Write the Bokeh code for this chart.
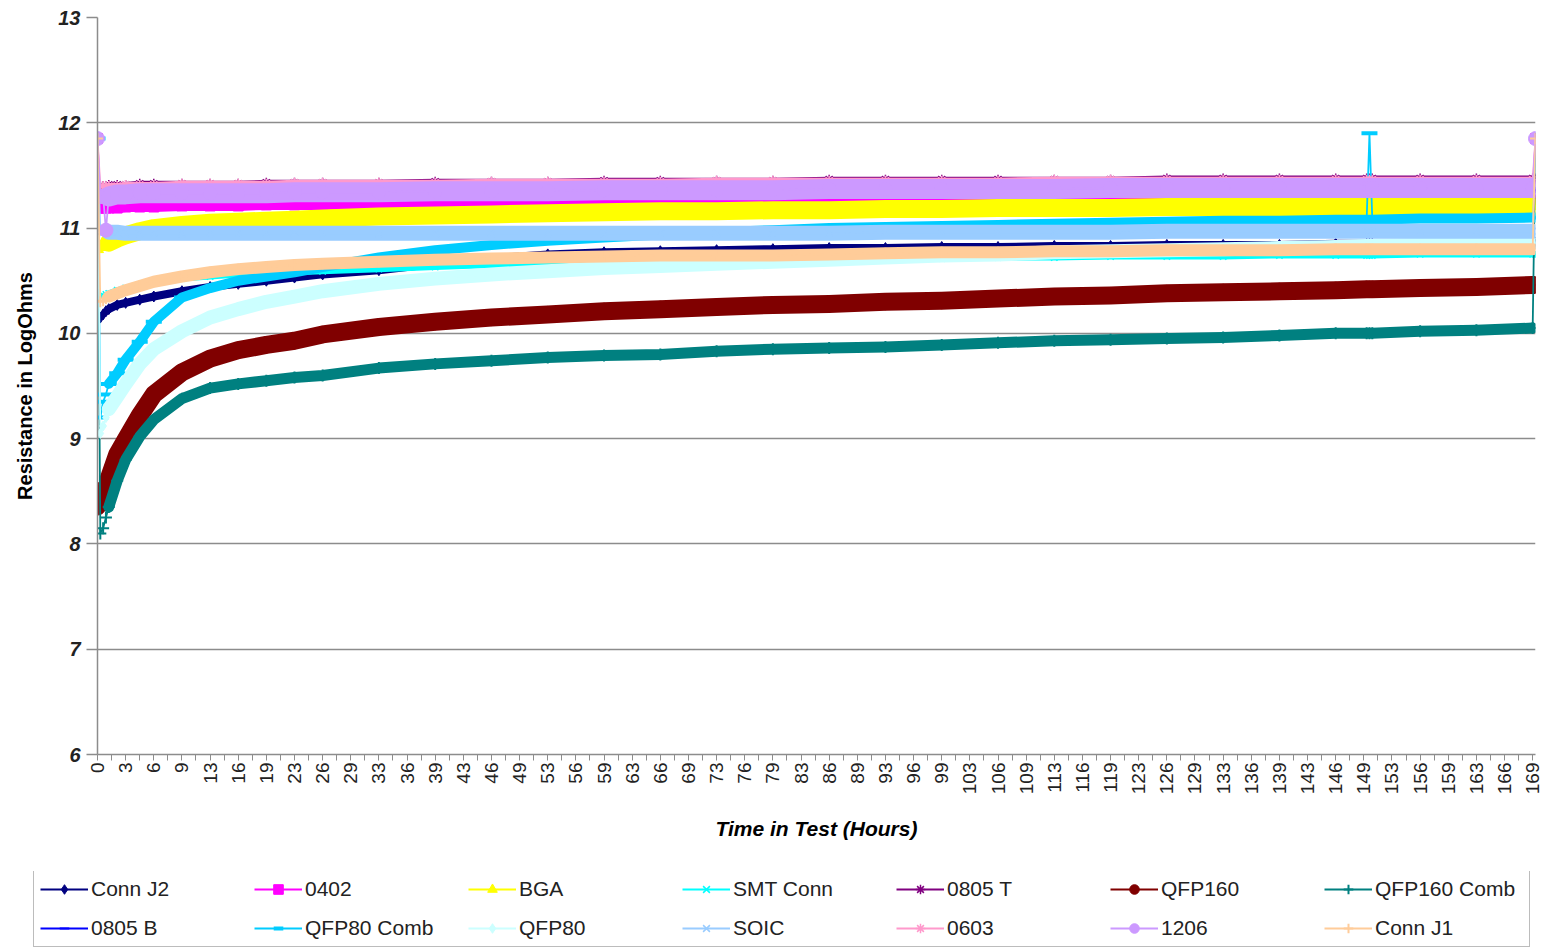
import numpy as np
from bokeh.plotting import figure
from bokeh.layouts import column, row
from bokeh.models import Range1d, FixedTicker, Legend, LegendItem
from bokeh.embed import file_html
from bokeh.resources import INLINE

# ---------------- data ----------------
hour_labels = ["0", "3", "6", "9", "13", "16", "19", "23", "26", "29", "33", "36", "39",
               "43", "46", "49", "53", "56", "59", "63", "66", "69", "73", "76", "79", "83",
               "86", "89", "93", "96", "99", "103", "106", "109", "113", "116", "119", "123",
               "126", "129", "133", "136", "139", "143", "146", "149", "153", "156", "159",
               "163", "166", "169"]
label_every = 10  # one hour label every 10 readings

# reading number (position along the category axis) of each sampled value
sample_idx = [0, 1, 2, 3, 4, 7, 10, 15, 20, 30, 40, 50, 60, 70, 80, 100, 120, 140, 160, 180,
              200, 220, 240, 260, 280, 300, 320, 340, 360, 380, 400, 420, 440, 451, 452, 453,
              470, 490, 510, 511]

conn_j2 = [10.15, 10.15, 10.18, 10.21, 10.23, 10.27, 10.29, 10.32, 10.35, 10.40, 10.44, 10.47,
           10.50, 10.53, 10.56, 10.60, 10.66, 10.71, 10.75, 10.77, 10.78, 10.79, 10.80, 10.81,
           10.81, 10.82, 10.82, 10.83, 10.83, 10.84, 10.84, 10.84, 10.85, 10.85, 10.85, 10.85,
           10.85, 10.86, 10.86, 10.86]
s_0402 = [11.85, 11.19, 11.19, 11.19, 11.19, 11.19, 11.20, 11.20, 11.20, 11.21, 11.21, 11.21,
          11.22, 11.22, 11.22, 11.23, 11.23, 11.24, 11.24, 11.24, 11.25, 11.25, 11.25, 11.25,
          11.26, 11.26, 11.26, 11.26, 11.26, 11.27, 11.27, 11.27, 11.27, 11.27, 11.27, 11.27,
          11.27, 11.27, 11.27, 11.85]
bga = [10.80, 10.82, 10.84, 10.85, 10.86, 10.90, 10.93, 10.97, 11.00, 11.03, 11.05, 11.06,
       11.07, 11.08, 11.09, 11.11, 11.12, 11.13, 11.14, 11.15, 11.16, 11.16, 11.17, 11.17,
       11.18, 11.18, 11.19, 11.19, 11.19, 11.20, 11.20, 11.20, 11.20, 11.20, 11.20, 11.20,
       11.21, 11.21, 11.21, 11.21]
smt_conn = [10.35, 10.35, 10.36, 10.37, 10.38, 10.41, 10.43, 10.46, 10.49, 10.52, 10.54, 10.56,
            10.57, 10.58, 10.59, 10.61, 10.63, 10.65, 10.66, 10.67, 10.68, 10.69, 10.70, 10.70,
            10.71, 10.71, 10.72, 10.72, 10.73, 10.73, 10.73, 10.74, 10.74, 10.74, 10.74, 10.74,
            10.75, 10.75, 10.75, 10.75]
s_0805_t = [11.40, 11.40, 11.40, 11.40, 11.41, 11.41, 11.41, 11.42, 11.42, 11.42, 11.42, 11.42,
            11.43, 11.43, 11.43, 11.43, 11.44, 11.44, 11.44, 11.45, 11.45, 11.45, 11.45, 11.46,
            11.46, 11.46, 11.46, 11.46, 11.46, 11.47, 11.47, 11.47, 11.47, 11.47, 11.47, 11.47,
            11.47, 11.47, 11.47, 11.47]
qfp160 = [8.35, 8.38, 8.48, 8.55, 8.62, 8.85, 8.99, 9.22, 9.42, 9.63, 9.76, 9.84, 9.89, 9.93,
          9.99, 10.06, 10.11, 10.15, 10.18, 10.21, 10.23, 10.25, 10.27, 10.28, 10.30, 10.31,
          10.33, 10.35, 10.36, 10.38, 10.39, 10.40, 10.41, 10.42, 10.42, 10.42, 10.43, 10.44,
          10.46, 10.46]
qfp160_comb = [11.85, 8.10, 8.15, 8.25, 8.35, 8.60, 8.80, 9.02, 9.18, 9.38, 9.48, 9.52, 9.55,
               9.58, 9.60, 9.67, 9.71, 9.74, 9.77, 9.79, 9.80, 9.83, 9.85, 9.86, 9.87, 9.89,
               9.91, 9.93, 9.94, 9.95, 9.96, 9.98, 10.00, 10.00, 10.00, 10.00, 10.02, 10.03,
               10.05, 11.85]
s_0805_b = [11.30, 11.30, 11.30, 11.30, 11.30, 11.31, 11.31, 11.32, 11.32, 11.33, 11.33, 11.33,
            11.33, 11.33, 11.34, 11.34, 11.34, 11.34, 11.35, 11.35, 11.35, 11.35, 11.35, 11.35,
            11.35, 11.35, 11.35, 11.36, 11.36, 11.36, 11.36, 11.36, 11.36, 11.36, 11.36, 11.36,
            11.36, 11.36, 11.36, 11.36]
qfp80_comb = [11.85, 9.20, 9.35, 9.42, 9.52, 9.62, 9.75, 9.92, 10.11, 10.34, 10.43, 10.50,
              10.54, 10.58, 10.63, 10.72, 10.79, 10.84, 10.88, 10.91, 10.94, 10.96, 10.98,
              11.00, 11.01, 11.02, 11.03, 11.04, 11.05, 11.06, 11.07, 11.07, 11.08, 11.08,
              11.90, 11.08, 11.09, 11.09, 11.10, 11.10]
qfp80 = [11.85, 9.05, 9.12, 9.20, 9.28, 9.40, 9.52, 9.71, 9.85, 10.02, 10.15, 10.23, 10.30,
         10.35, 10.40, 10.47, 10.52, 10.56, 10.59, 10.62, 10.64, 10.66, 10.68, 10.70, 10.72,
         10.74, 10.75, 10.77, 10.78, 10.79, 10.80, 10.81, 10.82, 10.83, 10.83, 10.83, 10.84,
         10.85, 10.86, 10.86]
soic = [11.85, 10.96, 10.96, 10.96, 10.96, 10.96, 10.95, 10.95, 10.95, 10.95, 10.95, 10.95,
        10.95, 10.95, 10.95, 10.95, 10.95, 10.95, 10.95, 10.95, 10.95, 10.95, 10.95, 10.95,
        10.96, 10.96, 10.96, 10.96, 10.96, 10.97, 10.97, 10.97, 10.97, 10.97, 10.97, 10.97,
        10.97, 10.97, 10.97, 11.85]
s_0603 = [11.85, 11.40, 11.40, 11.40, 11.40, 11.40, 11.41, 11.41, 11.41, 11.42, 11.42, 11.42,
          11.42, 11.43, 11.43, 11.43, 11.43, 11.44, 11.44, 11.44, 11.44, 11.45, 11.45, 11.45,
          11.45, 11.45, 11.45, 11.46, 11.46, 11.46, 11.46, 11.46, 11.46, 11.46, 11.46, 11.46,
          11.46, 11.46, 11.46, 11.85]
s_1206 = [11.85, 11.30, 11.30, 10.98, 11.30, 11.32, 11.32, 11.33, 11.33, 11.33, 11.33, 11.33,
          11.33, 11.34, 11.34, 11.34, 11.35, 11.35, 11.35, 11.36, 11.36, 11.36, 11.36, 11.37,
          11.37, 11.37, 11.37, 11.37, 11.38, 11.38, 11.38, 11.38, 11.38, 11.38, 11.38, 11.38,
          11.38, 11.38, 11.38, 11.85]
conn_j1 = [11.85, 10.30, 10.31, 10.33, 10.35, 10.38, 10.41, 10.45, 10.49, 10.54, 10.58, 10.61,
           10.63, 10.65, 10.66, 10.68, 10.70, 10.71, 10.72, 10.73, 10.74, 10.74, 10.74, 10.75,
           10.76, 10.77, 10.77, 10.78, 10.78, 10.79, 10.79, 10.79, 10.80, 10.80, 10.80, 10.80,
           10.80, 10.80, 10.80, 11.85]

series_names = ["Conn J2", "0402", "BGA", "SMT Conn", "0805 T", "QFP160", "QFP160 Comb",
                "0805 B", "QFP80 Comb", "QFP80", "SOIC", "0603", "1206", "Conn J1"]
series_values = [conn_j2, s_0402, bga, smt_conn, s_0805_t, qfp160, qfp160_comb,
                 s_0805_b, qfp80_comb, qfp80, soic, s_0603, s_1206, conn_j1]

# ---------------- styles ----------------
# color, marker, marker size, marker line width, band width
styles = [
    ("#000080", "diamond", 11, 1, 8),
    ("#FF00FF", "square", 10, 1, 10),
    ("#FFFF00", "triangle", 12, 1, 18),
    ("#00FFFF", "x", 9, 1.5, 6),
    ("#800080", "asterisk", 10, 1.5, 6),
    ("#800000", "circle", 16, 1, 18),
    ("#008080", "cross", 12, 2, 11),
    ("#0000FF", "dash", 9, 2, 6),
    ("#00CCFF", "dash", 16, 4, 10),
    ("#CCFFFF", "diamond", 10, 1, 14),
    ("#99CCFF", "x", 10, 1.5, 15),
    ("#FF99CC", "asterisk", 10, 1.5, 6),
    ("#CC99FF", "circle", 14, 1, 20),
    ("#FFCC99", "cross", 11, 2, 12),
]

FONT = "Liberation Sans"
GRAY = "#8c8c8c"

p = figure(width=1542, height=871, output_backend="svg", toolbar_location=None,
           x_range=Range1d(0, 511), y_range=Range1d(6, 13),
           min_border_left=97, min_border_right=7, min_border_top=17, min_border_bottom=117,
           background_fill_color="white", border_fill_color="white")
p.outline_line_color = None

# y axis
p.yaxis.ticker = FixedTicker(ticks=list(range(6, 14)))
p.yaxis.axis_label = "Resistance in LogOhms"
p.yaxis.axis_label_text_font = FONT
p.yaxis.axis_label_text_font_size = "20px"
p.yaxis.axis_label_text_font_style = "bold"
p.yaxis.axis_label_text_color = "black"
p.yaxis.axis_label_standoff = 19
p.yaxis.major_label_text_font = FONT
p.yaxis.major_label_text_font_size = "20px"
p.yaxis.major_label_text_font_style = "bold italic"
p.yaxis.major_label_text_color = "#222222"
p.yaxis.major_label_standoff = 6
p.yaxis.major_tick_out = 11
p.yaxis.major_tick_in = 0
p.yaxis.minor_tick_out = 0
p.yaxis.minor_tick_in = 0
p.yaxis.axis_line_color = GRAY
p.yaxis.axis_line_width = 1.5
p.yaxis.major_tick_line_color = GRAY
p.yaxis.major_tick_line_width = 1.5

# x axis (category-like, labels every 10 readings)
major = [i * label_every for i in range(len(hour_labels))]
minor = [m + label_every // 2 for m in major]
p.xaxis.ticker = FixedTicker(ticks=major, minor_ticks=minor)
p.xaxis.major_label_overrides = {m: lab for m, lab in zip(major, hour_labels)}
p.xaxis.major_label_orientation = np.pi / 2
p.xaxis.major_label_text_font = FONT
p.xaxis.major_label_text_font_size = "19px"
p.xaxis.major_label_text_color = "#222222"
p.xaxis.major_label_standoff = 2
p.xaxis.axis_label = "Time in Test (Hours)"
p.xaxis.axis_label_text_font = FONT
p.xaxis.axis_label_text_font_size = "21px"
p.xaxis.axis_label_text_font_style = "bold italic"
p.xaxis.axis_label_text_color = "black"
p.xaxis.axis_label_standoff = 20
p.xaxis.major_tick_out = 6
p.xaxis.major_tick_in = 0
p.xaxis.minor_tick_out = 6
p.xaxis.minor_tick_in = 0
p.xaxis.axis_line_color = GRAY
p.xaxis.axis_line_width = 1.5
p.xaxis.major_tick_line_color = GRAY
p.xaxis.minor_tick_line_color = GRAY

p.xgrid.grid_line_color = None
p.ygrid.grid_line_color = GRAY
p.ygrid.grid_line_width = 1.5

# legend strip below the chart; the series are re-plotted there outside its visible
# ranges so that the legend can draw each series' line + marker key
pl = figure(width=1542, height=76, output_backend="svg", toolbar_location=None,
            x_range=Range1d(-2, -1), y_range=Range1d(0, 1), x_axis_type=None, y_axis_type=None,
            min_border=0, min_border_left=0, min_border_right=0, min_border_top=0,
            min_border_bottom=0, background_fill_color="white", border_fill_color="white")
pl.outline_line_color = None

idx = np.array(sample_idx)
items = []
for name, vals, (color, marker, msize, mlw, band) in zip(series_names, series_values, styles):
    v = np.array(vals, dtype=float)
    assert len(v) == len(idx), name
    band_mask = (idx >= 4) & (v < 11.8)
    p.line(idx[band_mask], v[band_mask], line_color=color, line_width=band,
           line_join="round", line_cap="round")
    p.line(idx, v, line_color=color, line_width=1.8)
    p.scatter(idx, v, marker=marker, size=msize, fill_color=color, line_color=color,
              line_width=mlw)
    lr = pl.line(idx, v, line_color=color, line_width=2)
    sr = pl.scatter(idx, v, marker=marker, fill_color=color, line_color=color,
                    line_width=mlw)
    items.append(LegendItem(label=name, renderers=[lr, sr]))

legend = Legend(items=items, ncols=7, orientation="horizontal", location=(33, 0),
                glyph_width=48, glyph_height=24, label_height=24, label_width=148,
                label_standoff=3, spacing=15, padding=6, margin=0,
                label_text_font=FONT, label_text_font_size="21px", label_text_color="#222222",
                border_line_color="#7a7a7a", border_line_width=1.5,
                background_fill_color="white", background_fill_alpha=1.0)
pl.add_layout(legend)

# the legend strip sits in its own row so that its frame spans the full width
layout = column(p, row(pl, spacing=0), spacing=0)
open("out.html", "w").write(file_html(layout, INLINE))
